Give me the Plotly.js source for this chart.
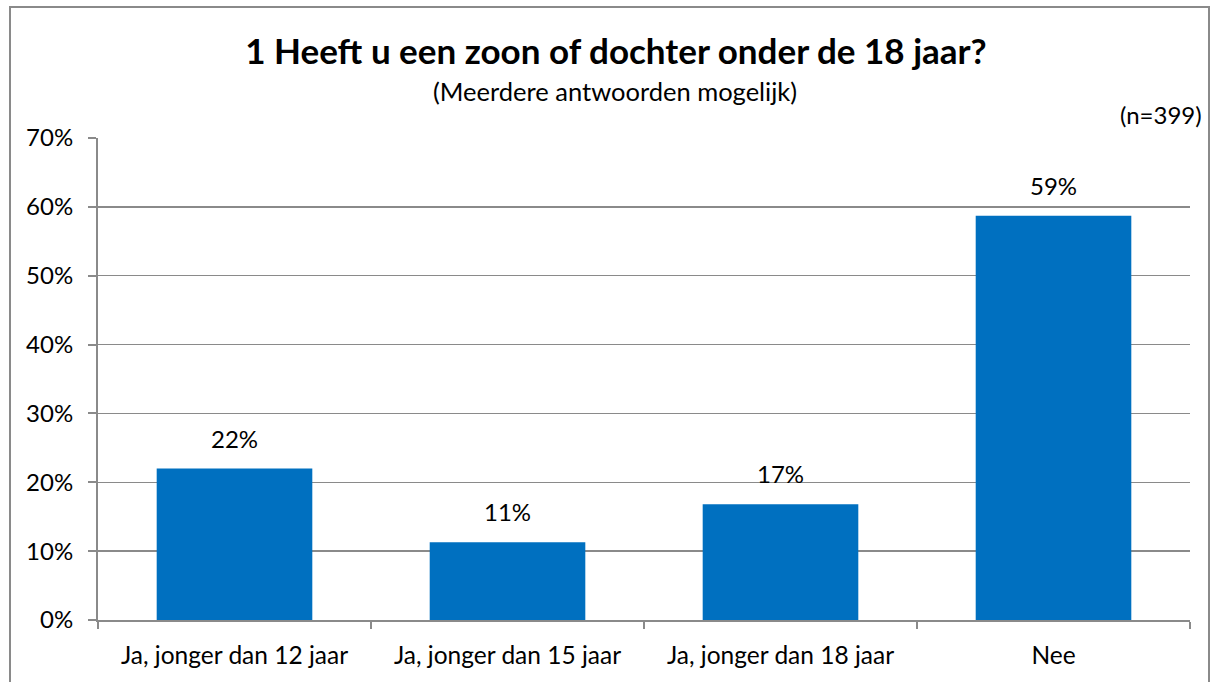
<!DOCTYPE html>
<html>
<head>
<meta charset="utf-8">
<script src="https://cdn.plot.ly/plotly-3.0.1.min.js"></script>
<style>
  html, body { margin: 0; padding: 0; background: #fff; }
  #wrap { position: relative; width: 1215px; height: 682px; overflow: hidden; }
  #chart { position: absolute; left: 0; top: 0; width: 1215px; height: 682px; }
  #frame { position: absolute; left: 9px; top: 6px; width: 1201px; height: 690px;
           border: 2px solid #8a8a8a; pointer-events: none; box-sizing: border-box; }
</style>
</head>
<body>
<div id="wrap">
  <div id="chart"></div>
  <div id="frame"></div>
</div>
<script>
const categories = ["Ja, jonger dan 12 jaar", "Ja, jonger dan 15 jaar", "Ja, jonger dan 18 jaar", "Nee"];
const values = [22.0, 11.3, 16.8, 58.7];
const valueLabels = ["22%", "11%", "17%", "59%"];
const yTickVals = [0, 10, 20, 30, 40, 50, 60, 70];
const yTickText = ["0%", "10%", "20%", "30%", "40%", "50%", "60%", "70%"];

const FONT = "Lato, 'Open Sans', sans-serif";
const FS = 24;

const trace = {
  type: "bar",
  x: categories,
  y: values,
  marker: { color: "#0070C0" },
  hoverinfo: "none"
};

const annotations = categories.map((c, i) => ({
  x: c, y: values[i], xref: "x", yref: "y",
  text: valueLabels[i], showarrow: false,
  yanchor: "bottom", yshift: 14,
  font: { family: FONT, size: FS, color: "#000" }
}));

annotations.push({
  xref: "paper", yref: "paper", x: (615 - 98) / 1092, y: 1, yshift: 47,
  xanchor: "center", yanchor: "middle", showarrow: false,
  text: "(Meerdere antwoorden mogelijk)",
  font: { family: FONT, size: 25.5, color: "#000" }
});
annotations.push({
  xref: "paper", yref: "paper", x: 1, xshift: 14, y: 1, yshift: 24,
  xanchor: "right", yanchor: "middle", showarrow: false,
  text: "(n=399)",
  font: { family: FONT, size: FS, color: "#000" }
});

const layout = {
  width: 1215, height: 682,
  margin: { l: 98, r: 25, t: 138, b: 62 },
  paper_bgcolor: "rgba(0,0,0,0)",
  plot_bgcolor: "#fff",
  title: {
    text: "<b>1 Heeft u een zoon of dochter onder de 18 jaar?</b>",
    x: 616 / 1215, xanchor: "center", xref: "container",
    y: 1 - 52 / 682, yref: "container", yanchor: "middle", pad: {t: 0, b: 0, l: 0, r: 0},
    font: { family: FONT, size: 35, color: "#000" }
  },
  bargap: 0.43,
  showlegend: false,
  xaxis: {
    type: "category",
    showline: true, linecolor: "#8a8a8a", linewidth: 2,
    ticks: "outside", ticklen: 7, tickcolor: "#8a8a8a", tickwidth: 2,
    tickson: "boundaries",
    showgrid: false,
    ticklabelstandoff: 13,
    tickfont: { family: FONT, size: 24.5, color: "#000" },
    fixedrange: true
  },
  yaxis: {
    range: [0, 70],
    tickvals: yTickVals, ticktext: yTickText,
    showline: true, linecolor: "#8a8a8a", linewidth: 2,
    ticks: "outside", ticklen: 8, tickcolor: "#8a8a8a", tickwidth: 2,
    showgrid: true, gridcolor: "#8a8a8a", gridwidth: 1.5,
    zeroline: false,
    ticklabelstandoff: 10,
    tickfont: { family: FONT, size: FS, color: "#000" },
    fixedrange: true
  },
  annotations: annotations
};

Plotly.newPlot("chart", [trace], layout, { displayModeBar: false, staticPlot: true });
</script>
</body>
</html>
